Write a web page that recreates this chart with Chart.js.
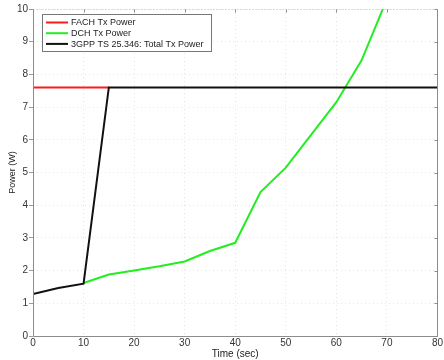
<!DOCTYPE html>
<html><head><meta charset="utf-8">
<script src="https://cdn.jsdelivr.net/npm/chart.js@4.4.1/dist/chart.umd.min.js"></script>
<style>html,body{margin:0;padding:0;background:#fff}#wrap{width:444px;height:360px}</style>
</head><body><div id="wrap"><canvas id="c" width="444" height="360"></canvas></div>
<script>
const seriesLabels = ['FACH Tx Power', 'DCH Tx Power', '3GPP TS 25.346: Total Tx Power'];
const fachTime = [0, 15];
const fachPower = [7.6, 7.6];
const dchTime = [10, 15, 20, 25, 30, 35, 40, 45, 50, 55, 60, 65, 70];
const dchPower = [1.62, 1.88, 2.0, 2.13, 2.28, 2.6, 2.85, 4.4, 5.15, 6.15, 7.15, 8.43, 10.3];
const totalTime = [0, 5, 10, 15, 80];
const totalPower = [1.28, 1.47, 1.6, 7.6, 7.6];
const xTicks = [0, 10, 20, 30, 40, 50, 60, 70, 80];
const yTicks = [0, 1, 2, 3, 4, 5, 6, 7, 8, 9, 10];
const xTitle = 'Time (sec)';
const yTitle = 'Power (W)';

const pts = (xs, ys) => xs.map((x, i) => ({x: x, y: ys[i]}));
const colors = ['#ff1a1a', '#22ee22', '#111111'];
const FONT = '"Liberation Sans", Arial, sans-serif';

const boxPlugin = {
  id: 'boxPlugin',
  afterDatasetsDraw(chart) {
    const ctx = chart.ctx, a = chart.chartArea;
    const xs = chart.scales.x, ys = chart.scales.y;
    const l = Math.round(a.left) + 0.5, t = Math.round(a.top) + 0.5;
    const r = Math.round(a.right) + 0.5, b = Math.round(a.bottom) + 0.5;
    ctx.save();
    ctx.lineWidth = 1;
    ctx.strokeStyle = '#8c8c8c';
    ctx.beginPath();
    ctx.moveTo(l, t); ctx.lineTo(l, b); ctx.lineTo(r, b); ctx.lineTo(r, t);
    ctx.stroke();
    ctx.strokeStyle = '#bdbdbd';
    ctx.setLineDash([1, 2]);
    ctx.beginPath(); ctx.moveTo(l, t); ctx.lineTo(r, t); ctx.stroke();
    ctx.setLineDash([]);
    ctx.strokeStyle = '#8c8c8c';
    ctx.beginPath();
    const L = 3;
    xTicks.forEach(v => {
      const px = Math.round(xs.getPixelForValue(v)) + 0.5;
      ctx.moveTo(px, t); ctx.lineTo(px, t + L);
    });
    yTicks.forEach(v => {
      const py = Math.round(ys.getPixelForValue(v)) + 0.5;
      ctx.moveTo(r, py); ctx.lineTo(r - L, py);
    });
    ctx.stroke();
    // legend
    const lx = 42, ly = 14, lw = 169, lh = 37;
    ctx.fillStyle = '#ffffff';
    ctx.fillRect(lx, ly, lw, lh);
    ctx.strokeStyle = '#777';
    ctx.strokeRect(lx + 0.5, ly + 0.5, lw, lh);
    ctx.font = '9px ' + FONT;
    ctx.textBaseline = 'middle';
    chart.data.datasets.forEach((ds, i) => {
      const y = ly + 8.5 + i * 10.7;
      ctx.strokeStyle = ds.borderColor;
      ctx.lineWidth = 2;
      ctx.beginPath(); ctx.moveTo(46, y); ctx.lineTo(68, y); ctx.stroke();
      ctx.fillStyle = '#222';
      ctx.fillText(ds.label, 71, y + 0.5);
    });
    ctx.restore();
  }
};

new Chart(document.getElementById('c'), {
  type: 'line',
  data: {
    datasets: [
      {label: seriesLabels[0], data: pts(fachTime, fachPower), borderColor: colors[0], order: 2},
      {label: seriesLabels[1], data: pts(dchTime, dchPower), borderColor: colors[1], order: 1},
      {label: seriesLabels[2], data: pts(totalTime, totalPower), borderColor: colors[2], order: 0}
    ].map(d => Object.assign(d, {borderWidth: 2, pointRadius: 0, tension: 0, fill: false}))
  },
  options: {
    responsive: false,
    animation: false,
    layout: {padding: {top: 9, right: 3, left: 0, bottom: 0}},
    plugins: {legend: {display: false}, tooltip: {enabled: false}},
    scales: {
      x: {
        type: 'linear', min: 0, max: 80,
        afterBuildTicks: s => { s.ticks = xTicks.map(v => ({value: v})); },
        afterFit: s => { s.height = 24; },
        ticks: {color: '#333', font: {family: FONT, size: 10}, padding: 1, maxRotation: 0},
        grid: {color: '#e6e6e6', drawTicks: false},
        border: {display: false, dash: [1, 3]},
        title: {display: true, text: xTitle, color: '#222', font: {family: FONT, size: 10}, padding: {top: 0, bottom: 0}}
      },
      y: {
        type: 'linear', min: 0, max: 10,
        afterBuildTicks: s => { s.ticks = yTicks.map(v => ({value: v})); },
        afterFit: s => { s.width = 33; },
        ticks: {color: '#333', font: {family: FONT, size: 10}, padding: 1},
        grid: {color: '#e6e6e6', drawTicks: true, tickLength: 4, tickColor: '#9a9a9a'},
        border: {display: false, dash: [1, 3]},
        title: {display: true, text: yTitle, color: '#222', font: {family: FONT, size: 9}, padding: {top: 7, bottom: 0}}
      }
    }
  },
  plugins: [boxPlugin]
});
</script></body></html>
